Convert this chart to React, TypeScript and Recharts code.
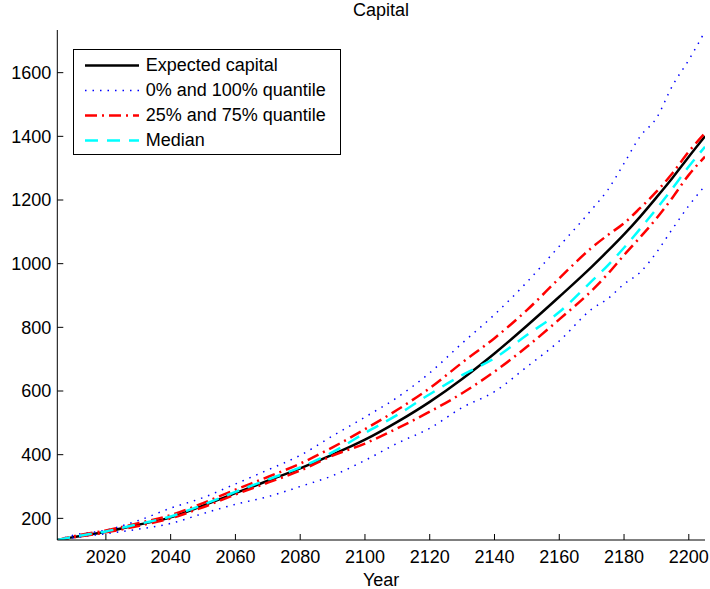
import { LineChart, Line, XAxis, YAxis } from "recharts";

const years = [2005, 2010, 2020, 2030, 2040, 2050, 2060, 2070, 2080, 2090, 2100, 2110, 2120, 2130, 2140, 2150, 2160, 2170, 2175, 2180, 2185, 2190, 2195, 2200, 2205];

const expected = [132, 141, 158, 180, 203, 240, 279, 318, 357, 400, 447, 503, 566, 638, 718, 805, 896, 990, 1040, 1092, 1148, 1208, 1270, 1336, 1400];
const q0 = [132, 139, 152, 166, 184, 215, 244, 268, 300, 334, 382, 436, 483, 548, 598, 676, 757, 857, 890, 936, 973, 1035, 1110, 1182, 1245];
const q100 = [132, 147, 163, 193, 232, 265, 308, 352, 398, 459, 518, 580, 657, 750, 840, 942, 1055, 1170, 1232, 1315, 1400, 1457, 1560, 1640, 1730];
const q25 = [132, 140, 156, 176, 200, 235, 275, 312, 350, 397, 435, 483, 535, 593, 661, 739, 825, 915, 968, 1027, 1083, 1142, 1208, 1279, 1336];
const q75 = [132, 144, 162, 185, 210, 248, 290, 330, 372, 423, 480, 541, 609, 689, 766, 854, 954, 1050, 1090, 1127, 1175, 1226, 1285, 1352, 1410];
const median = [132, 142, 159, 182, 206, 243, 283, 322, 360, 408, 468, 525, 590, 650, 703, 776, 848, 945, 995, 1050, 1110, 1172, 1237, 1305, 1367];

const xTicks = [2020, 2040, 2060, 2080, 2100, 2120, 2140, 2160, 2180, 2200];
const yTicks = [200, 400, 600, 800, 1000, 1200, 1400, 1600];

const data = years.map((year, i) => ({
  year,
  expected: expected[i],
  q0: q0[i],
  q100: q100[i],
  q25: q25[i],
  q75: q75[i],
  median: median[i],
}));

const FONT = "'Liberation Sans', Arial, Helvetica, sans-serif";
const tickStyle = { fontSize: 18, fill: "#000", fontFamily: FONT };

const legendItems = [
  { label: "Expected capital", color: "#000", dash: undefined, width: 2.5 },
  { label: "0% and 100% quantile", color: "#0000ff", dash: "1.5 6", width: 1.5 },
  { label: "25% and 75% quantile", color: "#ff0000", dash: "12 5 2 5", width: 2.5 },
  { label: "Median", color: "#00ffff", dash: "13 9", width: 2.5 },
];

export default function App() {
  return (
    <div style={{ position: "absolute", left: 0, top: 0, width: 710, height: 589, background: "#fff", fontFamily: FONT }}>
      <div style={{ position: "absolute", left: 57, width: 648, top: 0, textAlign: "center", fontSize: 18, lineHeight: "20px", color: "#000" }}>
        Capital
      </div>
      <LineChart width={710} height={589} data={data} margin={{ top: 30, right: 5, bottom: 0, left: 0 }}>
        <XAxis
          dataKey="year"
          type="number"
          domain={[2005, 2205]}
          ticks={xTicks}
          allowDataOverflow
          height={49}
          tickSize={-6}
          tickMargin={16}
          tick={tickStyle}
          stroke="#000"
          label={{ value: "Year", position: "insideBottom", offset: 3, style: { fontSize: 18, fill: "#000", fontFamily: FONT } }}
        />
        <XAxis xAxisId="top" orientation="top" dataKey="year" type="number" domain={[2005, 2205]} ticks={xTicks} allowDataOverflow height={0} tickSize={-6} tick={false} stroke="#000" />
        <YAxis
          type="number"
          domain={[132, 1734]}
          ticks={yTicks}
          allowDataOverflow
          width={57.3}
          tickSize={-6}
          tickMargin={12}
          tick={tickStyle}
          stroke="#000"
        />
        <YAxis yAxisId="right" orientation="right" type="number" domain={[132, 1734]} ticks={yTicks} allowDataOverflow width={0} tickSize={-6} tick={false} stroke="#000" />
        <Line type="monotone" dataKey="expected" stroke="#000" strokeWidth={2.5} dot={false} isAnimationActive={false} />
        <Line type="monotone" dataKey="q0" stroke="#0000ff" strokeWidth={1.5} strokeDasharray="1.5 6" dot={false} isAnimationActive={false} />
        <Line type="monotone" dataKey="q100" stroke="#0000ff" strokeWidth={1.5} strokeDasharray="1.5 6" dot={false} isAnimationActive={false} />
        <Line type="monotone" dataKey="q25" stroke="#ff0000" strokeWidth={2.5} strokeDasharray="12 5 2 5" dot={false} isAnimationActive={false} />
        <Line type="monotone" dataKey="q75" stroke="#ff0000" strokeWidth={2.5} strokeDasharray="12 5 2 5" dot={false} isAnimationActive={false} />
        <Line type="monotone" dataKey="median" stroke="#00ffff" strokeWidth={2.5} strokeDasharray="13 9" dot={false} isAnimationActive={false} />
      </LineChart>
      <div style={{ position: "absolute", left: 72.7, top: 49, width: 266, height: 104, border: "1px solid #000", background: "#fff" }}>
        {legendItems.map((item, i) => (
          <div key={item.label} style={{ position: "absolute", left: 0, top: 3 + i * 25, height: 25, display: "flex", alignItems: "center" }}>
            <svg width={72} height={25} style={{ display: "block" }}>
              <line x1={11} x2={65} y1={12.5} y2={12.5} stroke={item.color} strokeWidth={item.width} strokeDasharray={item.dash} />
            </svg>
            <span style={{ fontSize: 18, color: "#000", whiteSpace: "nowrap" }}>{item.label}</span>
          </div>
        ))}
      </div>
    </div>
  );
}
